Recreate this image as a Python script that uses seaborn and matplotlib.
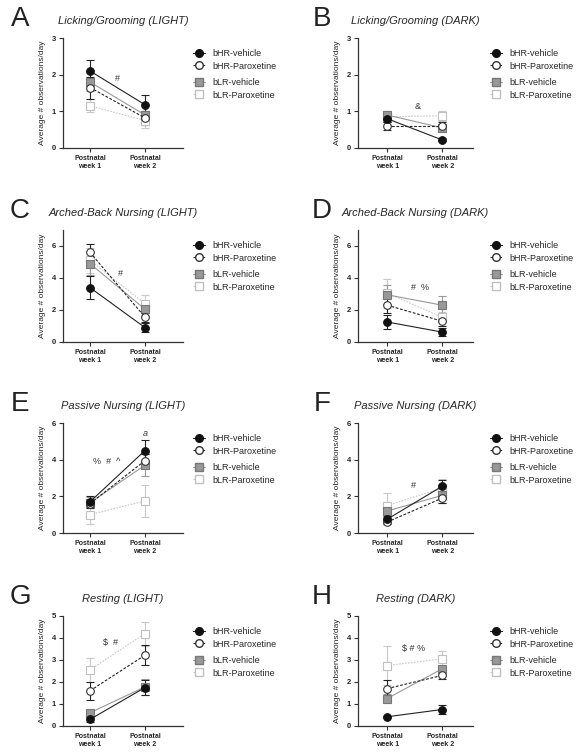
import pandas as pd
import matplotlib
matplotlib.use("Agg")
import matplotlib.pyplot as plt
import seaborn as sns
from matplotlib.lines import Line2D

groups = ["bHR-vehicle", "bHR-Paroxetine", "bLR-vehicle", "bLR-Paroxetine"]
weeks = ["Postnatal\nweek 1", "Postnatal\nweek 2"]

# means per group: [week 1, week 2]; sem likewise
lg_light_mean = [[2.10, 1.18], [1.65, 0.82], [1.80, 0.90], [1.15, 0.75]]
lg_light_sem = [[0.30, 0.27], [0.30, 0.18], [0.25, 0.12], [0.18, 0.20]]
lg_dark_mean = [[0.80, 0.22], [0.60, 0.60], [0.90, 0.55], [0.85, 0.88]]
lg_dark_sem = [[0.10, 0.04], [0.10, 0.10], [0.10, 0.10], [0.12, 0.14]]
abn_light_mean = [[3.40, 0.90], [5.60, 1.55], [4.90, 2.05], [5.10, 2.40]]
abn_light_sem = [[0.70, 0.30], [0.50, 0.30], [0.70, 0.40], [0.80, 0.55]]
abn_dark_mean = [[1.25, 0.62], [2.30, 1.30], [2.95, 2.30], [3.05, 1.55]]
abn_dark_sem = [[0.45, 0.25], [0.50, 0.30], [0.60, 0.60], [0.90, 0.30]]
pn_light_mean = [[1.70, 4.50], [1.60, 3.95], [1.65, 3.70], [1.00, 1.75]]
pn_light_sem = [[0.30, 0.55], [0.25, 0.35], [0.30, 0.60], [0.50, 0.85]]
pn_dark_mean = [[0.75, 2.55], [0.60, 1.90], [1.20, 2.05], [1.50, 2.45]]
pn_dark_sem = [[0.20, 0.35], [0.10, 0.25], [0.30, 0.40], [0.70, 0.50]]
rest_light_mean = [[0.30, 1.75], [1.60, 3.22], [0.60, 1.78], [2.55, 4.20]]
rest_light_sem = [[0.10, 0.35], [0.40, 0.45], [0.15, 0.35], [0.55, 0.55]]
rest_dark_mean = [[0.42, 0.75], [1.70, 2.30], [1.25, 2.60], [2.75, 3.05]]
rest_dark_sem = [[0.05, 0.20], [0.40, 0.15], [0.20, 0.15], [0.90, 0.35]]

panels = [
    ("A", "Licking/Grooming (LIGHT)", lg_light_mean, lg_light_sem, 3, [0, 1, 2, 3], [(0.5, 1.9, "#")]),
    ("B", "Licking/Grooming (DARK)", lg_dark_mean, lg_dark_sem, 3, [0, 1, 2, 3], [(0.55, 1.12, "&")]),
    ("C", "Arched-Back Nursing (LIGHT)", abn_light_mean, abn_light_sem, 7, [0, 2, 4, 6], [(0.55, 4.3, "#")]),
    ("D", "Arched-Back Nursing (DARK)", abn_dark_mean, abn_dark_sem, 7, [0, 2, 4, 6], [(0.6, 3.4, "#  %")]),
    ("E", "Passive Nursing (LIGHT)", pn_light_mean, pn_light_sem, 6, [0, 2, 4, 6], [(0.3, 3.9, "%  #  ^"), (1.0, 5.45, "a")]),
    ("F", "Passive Nursing (DARK)", pn_dark_mean, pn_dark_sem, 6, [0, 2, 4, 6], [(0.48, 2.6, "#")]),
    ("G", "Resting (LIGHT)", rest_light_mean, rest_light_sem, 5, [0, 1, 2, 3, 4, 5], [(0.38, 3.8, "$  #")]),
    ("H", "Resting (DARK)", rest_dark_mean, rest_dark_sem, 5, [0, 1, 2, 3, 4, 5], [(0.48, 3.5, "$ # %")]),
]

styles = {
    "bHR-vehicle": dict(marker="o", mfc="#111111", mec="#111111", ls="-", lc="#222222"),
    "bHR-Paroxetine": dict(marker="o", mfc="white", mec="#333333", ls=(0, (2.5, 1.5)), lc="#222222"),
    "bLR-vehicle": dict(marker="s", mfc="#999999", mec="#777777", ls="-", lc="#999999"),
    "bLR-Paroxetine": dict(marker="s", mfc="white", mec="#c0c0c0", ls=(0, (1.5, 1.2)), lc="#c8c8c8"),
}
draw_order = ["bLR-Paroxetine", "bLR-vehicle", "bHR-Paroxetine", "bHR-vehicle"]

sns.set_style("white")
plt.rcParams["font.family"] = ["Liberation Sans", "DejaVu Sans"]

W, H = 581, 756
fig = plt.figure(figsize=(W / 100, H / 100), dpi=100)

col_x = [(63, 120, (-0.49, 1.69), 193), (358, 115, (-0.53, 1.56), 490)]
row_y = [(38, 148), (230, 342), (423, 533), (616, 726)]

for i, (letter, title, means, sems, ymax, yticks, notes) in enumerate(panels):
    r, c = divmod(i, 2)
    x0, w, xl, leg_x = col_x[c]
    top, bot = row_y[r]
    ax = fig.add_axes([x0 / W, 1 - bot / H, w / W, (bot - top) / H])

    rows = []
    for g, m, s in zip(groups, means, sems):
        for k in range(2):
            rows.append({"group": g, "week": k, "mean": m[k], "sem": s[k]})
    df = pd.DataFrame(rows)

    for g in draw_order:
        st = styles[g]
        d = df[df["group"] == g]
        ax.errorbar(d["week"], d["mean"], yerr=d["sem"], fmt="none",
                    ecolor=st["lc"], elinewidth=0.8, capsize=3, capthick=0.8, zorder=2)
        sns.lineplot(data=d, x="week", y="mean", ax=ax, color=st["lc"], linestyle=st["ls"],
                     linewidth=0.8, marker=st["marker"], markersize=5.5,
                     markerfacecolor=st["mfc"], markeredgecolor=st["mec"],
                     markeredgewidth=0.8, zorder=3)

    ax.set_xlim(*xl)
    ax.set_ylim(0, ymax)
    ax.set_yticks(yticks)
    ax.set_xticks([0, 1])
    ax.set_xticklabels(weeks, fontsize=5, fontweight="bold")
    for t in ax.get_yticklabels():
        t.set_fontsize(5.5)
        t.set_fontweight("bold")
    ax.set_xlabel("")
    ax.set_ylabel("Average # observations/day", fontsize=6, labelpad=4)
    ax.tick_params(axis="both", length=3, width=0.8, pad=2, color="#333333", direction="out",
                   bottom=True, left=True)
    sns.despine(ax=ax)
    for sp in ("left", "bottom"):
        ax.spines[sp].set_linewidth(0.9)
        ax.spines[sp].set_color("#333333")
    ax.set_title(title, fontsize=8, style="italic", pad=10)

    for nx, ny, txt in notes:
        ax.text(nx, ny, txt, fontsize=6.5, ha="center", va="center",
                style="italic" if txt == "a" else "normal", color="#333333")

    # panel letter
    fig.text((20 if c == 0 else 322) / W, 1 - (top - 19) / H, letter, fontsize=20,
             ha="center", va="center", color="#222222")

    # legends (two groups)
    for grp, yc in ((groups[:2], top + 22), (groups[2:], top + 51)):
        handles = [Line2D([0], [0], color=styles[g]["lc"], linestyle=styles[g]["ls"], linewidth=0.8,
                          marker=styles[g]["marker"], markersize=5.5,
                          markerfacecolor=styles[g]["mfc"], markeredgecolor=styles[g]["mec"])
                   for g in grp]
        fig.legend(handles, grp, loc="center left", bbox_to_anchor=(leg_x / W, 1 - yc / H),
                   frameon=False, fontsize=6.5, handlelength=1.3, handletextpad=0.8,
                   labelspacing=0.35, borderpad=0, borderaxespad=0)

fig.savefig("out.png", dpi=100)
